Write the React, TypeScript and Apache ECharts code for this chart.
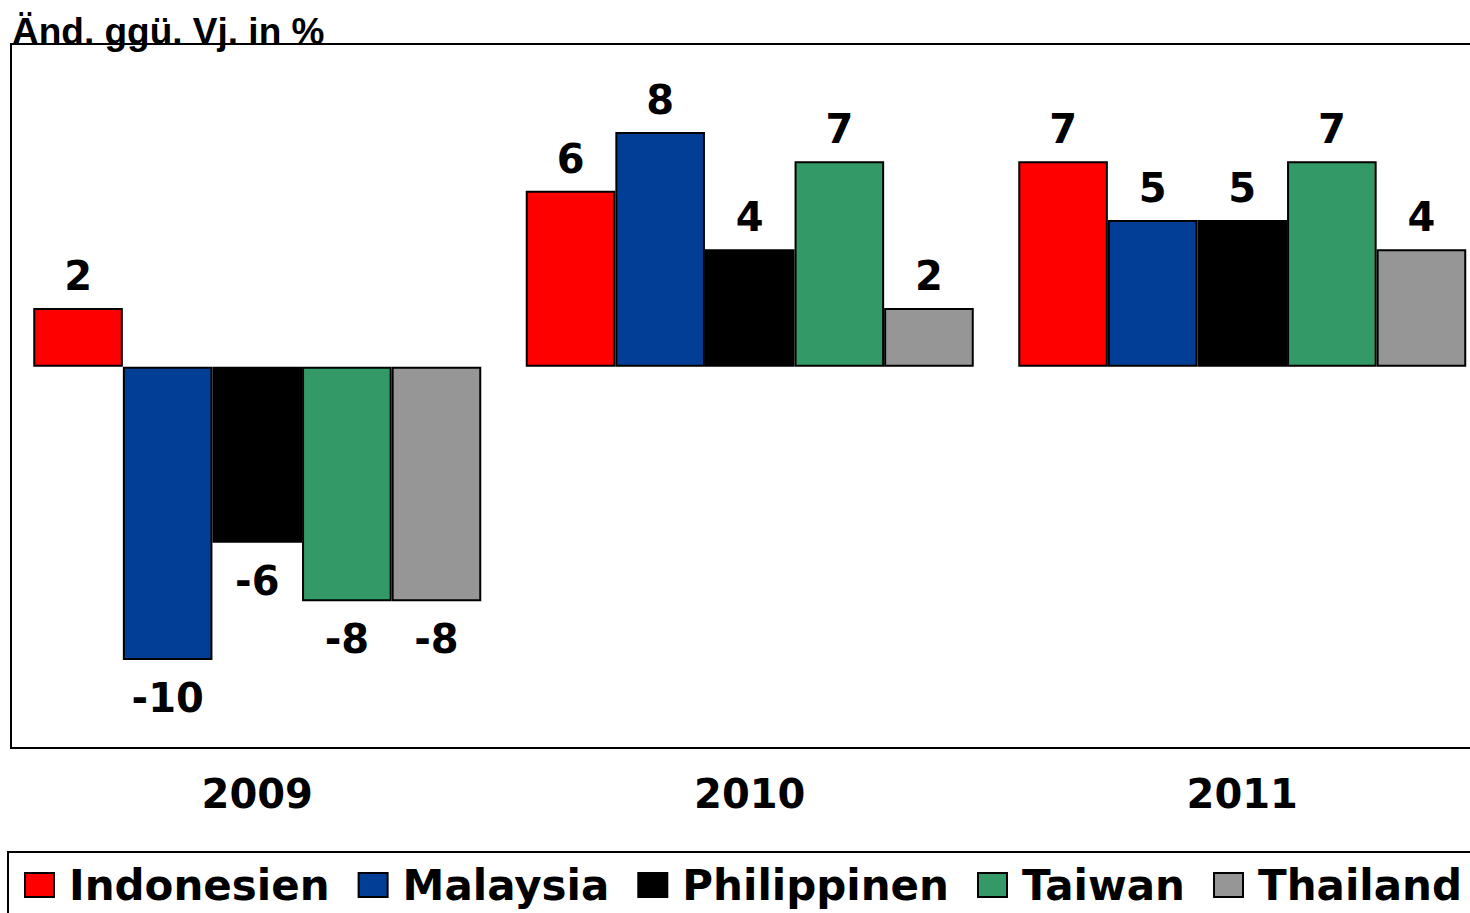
import React, { useEffect, useRef } from "react";
import * as echarts from "echarts";

const categories = ["2009", "2010", "2011"];
const seriesNames = ["Indonesien", "Malaysia", "Philippinen", "Taiwan", "Thailand"];
const indonesien = [2, 6, 7];
const malaysia = [-10, 8, 5];
const philippinen = [-6, 4, 5];
const taiwan = [-8, 7, 7];
const thailand = [-8, 2, 4];
const colors = ["#FF0000", "#033E96", "#000000", "#339966", "#969696"];

const allValues = [indonesien, malaysia, philippinen, taiwan, thailand];

const LABEL_FONT = "'DejaVu Sans', sans-serif";

export default function App() {
  const ref = useRef<HTMLDivElement>(null);

  useEffect(() => {
    if (!ref.current) return;
    const chart = echarts.init(ref.current, null, { renderer: "svg" });
    const series = seriesNames.map((name, i) => ({
      name,
      type: "bar",
      barWidth: 89.6,
      barGap: "0%",
      itemStyle: { color: colors[i], borderColor: "#000", borderWidth: 2 },
      data: allValues[i].map((v) => ({
        value: v,
        label: {
          position: v >= 0 ? "top" : "bottom",
          distance: v >= 0 ? 12 : 18,
        },
      })),
      label: {
        show: true,
        color: "#000",
        fontFamily: LABEL_FONT,
        fontWeight: "bold",
        fontSize: 40,
      },
    }));

    chart.setOption({
      animation: false,
      backgroundColor: "#fff",
      title: {
        text: "Änd. ggü. Vj. in %",
        left: 12,
        top: 13,
        padding: 0,
        textStyle: {
          fontFamily: "'Liberation Sans', Arial, sans-serif",
          fontWeight: "bold",
          fontSize: 37,
          color: "#000",
        },
      },
      grid: {
        left: 11,
        right: 1.5,
        top: 44,
        bottom: 165,
        show: true,
        borderColor: "#000",
        borderWidth: 2,
        backgroundColor: "transparent",
      },
      xAxis: {
        type: "category",
        data: categories,
        axisLine: { show: false, onZero: false },
        axisTick: { show: false },
        axisLabel: {
          margin: 26,
          color: "#000",
          fontFamily: LABEL_FONT,
          fontWeight: "bold",
          fontSize: 40,
        },
      },
      yAxis: {
        type: "value",
        min: -13,
        max: 11,
        show: false,
        splitLine: { show: false },
      },
      legend: {
        left: 24,
        top: 864,
        padding: 0,
        itemWidth: 29,
        itemHeight: 24,
        itemGap: 28,
        icon: "rect",
        textStyle: {
          fontFamily: LABEL_FONT,
          fontWeight: "bold",
          fontSize: 42,
          color: "#000",
          padding: [0, 0, 0, 10],
        },
        data: seriesNames,
      },
      graphic: [
        {
          type: "rect",
          shape: { x: 8, y: 852, width: 1520, height: 120 },
          style: { fill: "transparent", stroke: "#000", lineWidth: 2 },
          z: -1,
          silent: true,
        },
      ],
      series,
    });
    return () => chart.dispose();
  }, []);

  return (
    <div
      style={{
        position: "fixed",
        left: 0,
        top: 0,
        width: 1470,
        height: 913,
        overflow: "hidden",
        background: "#fff",
      }}
    >
      <div ref={ref} style={{ width: 1490, height: 913 }} />
    </div>
  );
}
